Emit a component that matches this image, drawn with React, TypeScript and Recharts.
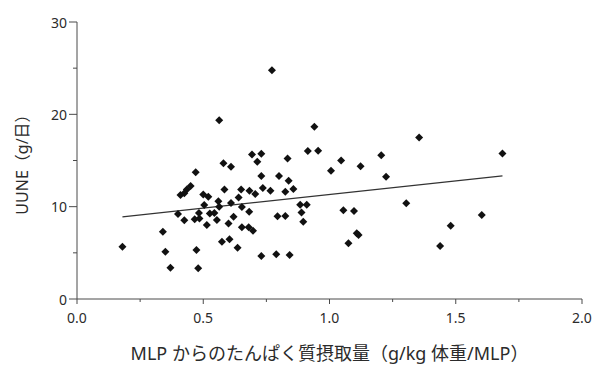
import { ScatterChart, Scatter, XAxis, YAxis, ReferenceLine } from "recharts"

// protein intake from MLP (g/kg body weight/MLP)
const proteinIntake = [
  0.18, 0.34, 0.35, 0.37, 0.4, 0.41, 0.425, 0.435, 0.45, 0.47,
  0.425, 0.466, 0.485, 0.483, 0.473, 0.48, 0.5, 0.52, 0.504, 0.514,
  0.526, 0.544, 0.554, 0.56, 0.563, 0.563, 0.58, 0.61, 0.584, 0.574,
  0.604, 0.636, 0.6, 0.61, 0.62, 0.64, 0.65, 0.653, 0.653, 0.683,
  0.682, 0.68, 0.697, 0.693, 0.73, 0.714, 0.706, 0.73, 0.736, 0.73,
  0.766, 0.772, 0.789, 0.794, 0.8, 0.825, 0.825, 0.834, 0.838, 0.842,
  0.857, 0.884, 0.91, 0.889, 0.896, 0.914, 0.955, 0.94, 1.006, 1.046,
  1.055, 1.097, 1.108, 1.115, 1.075, 1.123, 1.205, 1.224, 1.304, 1.355,
  1.438, 1.48, 1.603, 1.685,
]

// UUNE (g/day)
const uune = [
  5.66, 7.28, 5.12, 3.39, 9.2, 11.26, 11.44, 11.87, 12.23, 13.74,
  8.52, 8.63, 8.73, 9.31, 5.3, 3.32, 11.33, 11.07, 10.17, 8.01,
  9.25, 9.31, 8.55, 10.6, 10.0, 19.37, 14.69, 14.32, 11.87, 6.2,
  6.46, 5.55, 8.19, 10.39, 8.91, 11.0, 11.87, 9.96, 7.76, 11.72,
  9.45, 7.76, 7.38, 15.64, 15.73, 14.86, 11.36, 13.31, 12.01, 4.65,
  11.72, 24.78, 4.84, 8.95, 13.31, 8.98, 11.61, 15.23, 12.8, 4.76,
  11.9, 10.2, 10.2, 9.36, 8.37, 16.02, 16.05, 18.65, 13.89, 14.99,
  9.6, 9.52, 7.11, 6.93, 6.03, 14.39, 15.58, 13.24, 10.36, 17.5,
  5.74, 7.93, 9.09, 15.77,
]

// regression line end points
const trendX = [0.18, 1.685]
const trendY = [8.9, 13.34]

const xTicks = [0, 0.25, 0.5, 0.75, 1, 1.25, 1.5, 1.75, 2]
const yTicks = [0, 5, 10, 15, 20, 25, 30]

const xTitle = "MLP からのたんぱく質摂取量（g/kg 体重/MLP）"
const yTitle = "UUNE（g/日）"

const font = "'Noto Sans', 'Noto Sans CJK JP', sans-serif"
const axisColor = "#4a4a4a"
const textColor = "#2b2b2b"

const data = proteinIntake.map((x, i) => ({ x, y: uune[i] }))

function YTick(props: any) {
  const { x, y, payload } = props
  const major = payload.value % 10 === 0
  return (
    <g>
      <line x1={x} x2={x - (major ? 8 : 4)} y1={y} y2={y} stroke={axisColor} />
      {major && (
        <text x={x - 10} y={y} textAnchor="end" dominantBaseline="central" fontSize={14} fontFamily={font} fill={textColor}>
          {payload.value}
        </text>
      )}
    </g>
  )
}

function XTick(props: any) {
  const { x, y, payload } = props
  const v = payload.value
  const major = Math.abs(v * 2 - Math.round(v * 2)) < 1e-6
  return (
    <g>
      <line x1={x} x2={x} y1={y} y2={y + (major ? 5 : 3)} stroke={axisColor} />
      {major && (
        <text x={x} y={y + 24} textAnchor="middle" fontSize={14} fontFamily={font} fill={textColor}>
          {v.toFixed(1)}
        </text>
      )}
    </g>
  )
}

function Diamond(props: any) {
  const { cx, cy } = props
  const r = 4
  return <polygon points={`${cx},${cy - r} ${cx + r},${cy} ${cx},${cy + r} ${cx - r},${cy}`} fill="#111" />
}

export default function App() {
  return (
    <div style={{ position: "absolute", left: 0, top: 0, background: "#fff" }}>
      <ScatterChart width={595} height={369} margin={{ top: 22, right: 13, bottom: 40, left: 0 }}>
        <XAxis
          type="number"
          dataKey="x"
          domain={[0, 2]}
          ticks={xTicks}
          interval={0}
          tickSize={0}
          tickMargin={0}
          height={30}
          stroke={axisColor}
          tick={<XTick />}
          label={{
            content: (p: any) => {
              const vb = p.viewBox
              return (
                <text x={vb.x + vb.width / 2} y={vb.y + 61} textAnchor="middle" fontSize={18} fontFamily={font} fill={textColor}>
                  {xTitle}
                </text>
              )
            },
          }}
        />
        <YAxis
          type="number"
          dataKey="y"
          domain={[0, 30]}
          ticks={yTicks}
          interval={0}
          tickSize={0}
          tickMargin={0}
          width={77}
          stroke={axisColor}
          tick={<YTick />}
          label={{
            content: (p: any) => {
              const vb = p.viewBox
              const cy = vb.y + vb.height / 2
              return (
                <text x={22} y={cy} transform={`rotate(-90 22 ${cy})`} textAnchor="middle" dominantBaseline="central" fontSize={16} fontFamily={font} fill={textColor}>
                  {yTitle}
                </text>
              )
            },
          }}
        />
        <ReferenceLine
          segment={[
            { x: trendX[0], y: trendY[0] },
            { x: trendX[1], y: trendY[1] },
          ]}
          stroke="#333"
          strokeWidth={1.3}
        />
        <Scatter data={data} shape={<Diamond />} isAnimationActive={false} />
      </ScatterChart>
    </div>
  )
}
